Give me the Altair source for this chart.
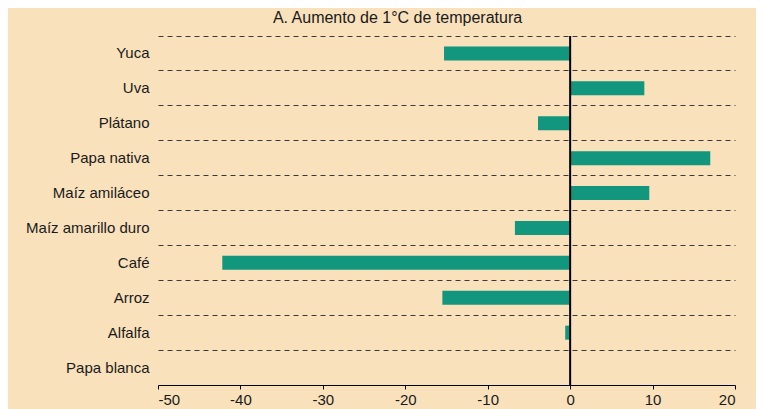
import altair as alt
import pandas as pd

crops = ["Yuca", "Uva", "Plátano", "Papa nativa", "Maíz amiláceo",
         "Maíz amarillo duro", "Café", "Arroz", "Alfalfa", "Papa blanca"]
values = [-15.3, 9.0, -3.9, 17.0, 9.6, -6.7, -42.2, -15.5, -0.6, 0.0]
x_ticks = [-50, -40, -30, -20, -10, 0, 10, 20]
title_text = "A. Aumento de 1°C de temperatura"

df = pd.DataFrame({"cultivo": crops, "valor": values})

FONT = "Liberation Sans"

y_enc = alt.Y(
    "cultivo:N",
    sort=crops,
    scale=alt.Scale(paddingInner=0, paddingOuter=0),
    axis=alt.Axis(
        title=None, domain=False, ticks=False, labelPadding=9,
        labelFontSize=15, labelFont=FONT, labelColor="#1a1a1a",
        grid=True, gridDash=[5, 4], gridColor="#3a3a3a", gridWidth=1,
        bandPosition=0,
    ),
)

x_scale = alt.Scale(domain=[-50, 20], nice=False, zero=False)

bars = alt.Chart(df).mark_bar(color="#13967e", size=14).encode(
    y=y_enc,
    x=alt.X(
        "valor:Q",
        scale=x_scale,
        axis=alt.Axis(
            title=None, values=x_ticks, grid=False, domainColor="#000000",
            domainWidth=1, tickColor="#000000", tickSize=4, labelPadding=3,
            labelFontSize=15, labelFont=FONT, labelColor="#1a1a1a",
            labelExpr="replace(datum.label, '\u2212', '-')",
        ),
    ),
    x2=alt.datum(0),
)

zero = alt.Chart(pd.DataFrame({"z": [0]})).mark_rule(
    color="#000000", strokeWidth=2
).encode(x=alt.X("z:Q", scale=x_scale))

chart = alt.layer(bars, zero).properties(
    width=577,
    height=349,
    title=alt.TitleParams(
        title_text, fontSize=16, fontWeight="normal", font=FONT,
        color="#1a1a1a", anchor="middle", dx=-49, offset=9,
    ),
    background="#f9e1bc",
    autosize=alt.AutoSizeParams(type="none"),
    padding={"left": 150, "top": 28, "right": 21, "bottom": 24},
).configure_view(stroke=None)

chart.save("out.html", embed_options={"renderer": "svg", "actions": False})
